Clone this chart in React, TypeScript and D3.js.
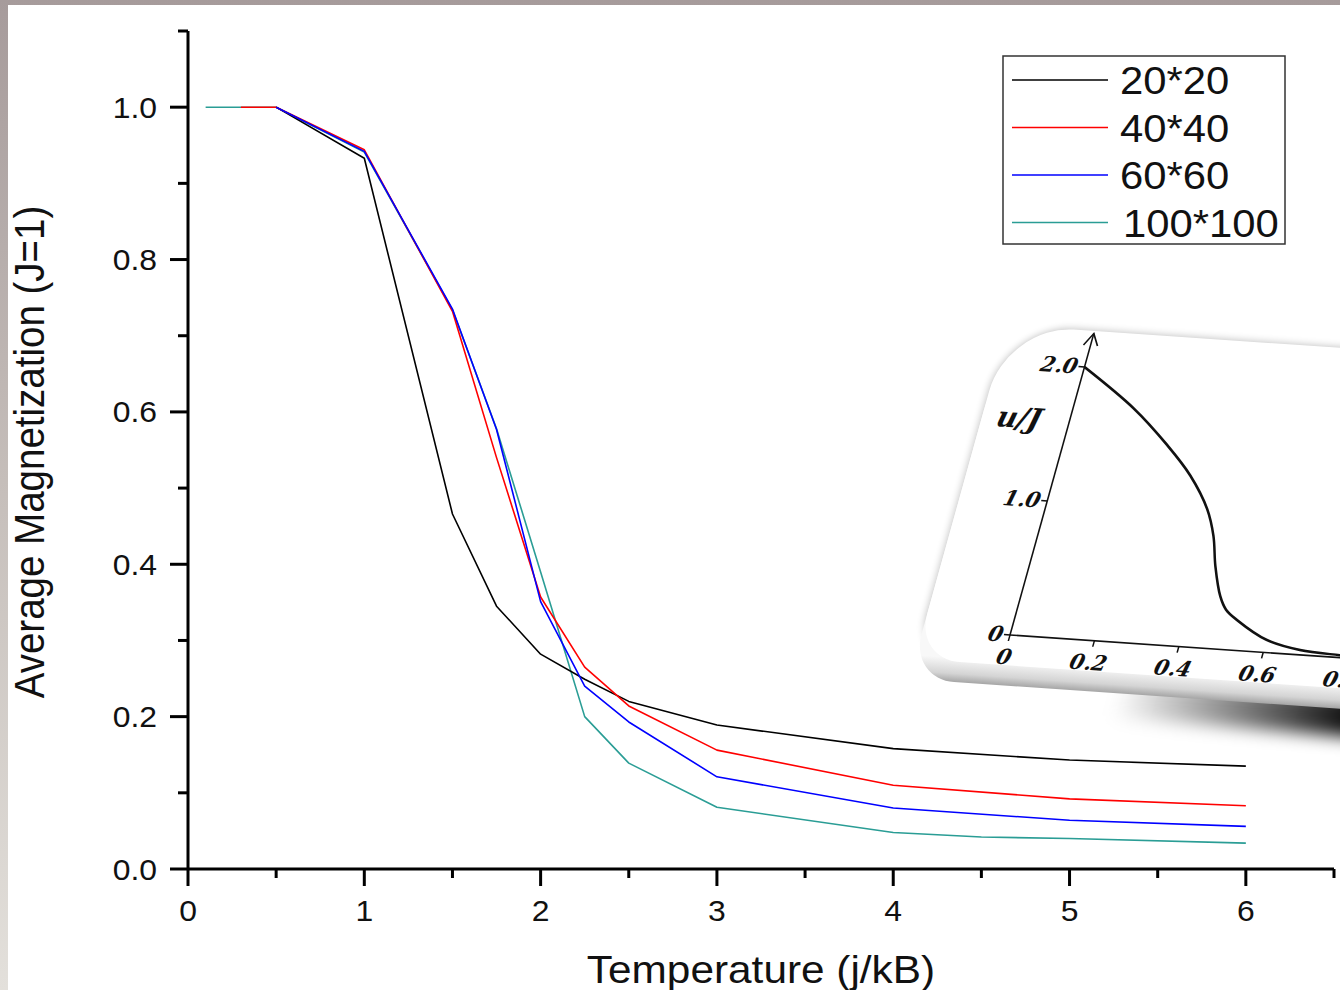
import React from 'react'
import * as d3 from 'd3'

// main chart data, temperature (j/kB) vs average magnetization
const t20 = [0.5, 1, 1.5, 1.75, 2, 2.25, 2.5, 3, 4, 5, 6]
const m20 = [1.0, 0.933, 0.466, 0.345, 0.282, 0.249, 0.22, 0.189, 0.158, 0.143, 0.135]
const t40 = [0.3, 0.5, 1, 1.5, 1.75, 2, 2.25, 2.5, 3, 4, 5, 6]
const m40 = [1.0, 1.0, 0.944, 0.732, 0.54, 0.357, 0.265, 0.214, 0.156, 0.11, 0.092, 0.083]
const t60 = [0.5, 1, 1.5, 1.75, 2, 2.25, 2.5, 3, 4, 5, 6]
const m60 = [1.0, 0.942, 0.735, 0.577, 0.351, 0.24, 0.193, 0.121, 0.08, 0.064, 0.056]
const t100 = [0.1, 0.3, 0.5, 1, 1.5, 1.75, 2, 2.25, 2.5, 3, 4, 4.5, 5, 6]
const m100 = [1.0, 1.0, 1.0, 0.941, 0.734, 0.578, 0.39, 0.2, 0.139, 0.081, 0.048, 0.042, 0.04, 0.034]

const seriesNames = ['20*20', '40*40', '60*60', '100*100']
const seriesColors = ['#000000', '#ff0000', '#0000ff', '#2a9d95']

const xTicks = [0, 1, 2, 3, 4, 5, 6]
const xMinor = [0.5, 1.5, 2.5, 3.5, 4.5, 5.5, 6.5]
const yTicks = [0, 0.2, 0.4, 0.6, 0.8, 1.0]
const yTickLabels = ['0.0', '0.2', '0.4', '0.6', '0.8', '1.0']
const yMinor = [0.1, 0.3, 0.5, 0.7, 0.9, 1.1]

// inset picture (u/J curve)
const insetX = [0, 0.141, 0.243, 0.316, 0.377, 0.409, 0.433, 0.464, 0.486, 0.517, 0.6, 0.684, 0.78, 0.9]
const insetY = [2.0, 1.722, 1.469, 1.259, 1.022, 0.828, 0.608, 0.389, 0.294, 0.226, 0.093, 0.036, 0.018, 0.008]
const insetXTicks = [0, 0.2, 0.4, 0.6, 0.8]
const insetXLabels = ['0', '0.2', '0.4', '0.6', '0.8']
const insetYTicks = [0, 1, 2]
const insetYLabels = ['0', '1.0', '2.0']

const FONT = 'Liberation Sans, Arial, sans-serif'
const SERIF = 'DejaVu Serif, serif'
const SX = 1.1 // the picture is a bit wider than tall

const Txt = ({x, y, size, anchor = 'start', children}) => (
  <text
    transform={`translate(${x},${y}) scale(${SX},1)`}
    fontSize={size}
    textAnchor={anchor}
    fontFamily={FONT}
    fill="#111">
    {children}
  </text>
)

export default function App() {
  const x = d3.scaleLinear().domain([0, 6.5]).range([188, 1334])
  const y = d3.scaleLinear().domain([0, 1.1]).range([869, 31])

  // drawing order: 100*100 under the others, 60*60 on top
  const series = [
    {t: t100, m: m100, i: 3},
    {t: t20, m: m20, i: 0},
    {t: t40, m: m40, i: 1},
    {t: t60, m: m60, i: 2}
  ]
  const line = d3
    .line<number>()
    .x(d => x(d[0]))
    .y(d => y(d[1]))

  // inset local frame (sheared to look like the tilted photo)
  const ix = d3.scaleLinear().domain([0, 1]).range([0, 422])
  const iy = d3.scaleLinear().domain([0, 1]).range([0, -134])
  const insetLine = d3
    .line<number>()
    .x(d => ix(d[0]))
    .y(d => iy(d[1]))
    .curve(d3.curveCatmullRom.alpha(0.5))
  const M = 'matrix(1,0.0687,-0.278,1,1010,635)'

  const u0 = -87, u1 = 800, v0 = -304, v1 = 30, rTL = 66, rBL = 45
  const card = (dv = 0) =>
    `M${u0 + rTL},${v0 + dv} L${u1},${v0 + dv} L${u1},${v1 + dv} L${u0 + rBL},${v1 + dv} ` +
    `A${rBL},${rBL} 0 0 1 ${u0},${v1 + dv - rBL} L${u0},${v0 + dv + rTL} ` +
    `A${rTL},${rTL} 0 0 1 ${u0 + rTL},${v0 + dv} Z`

  const arrowTop = iy(2.25)

  return (
    <svg width={1340} height={990} style={{position: 'absolute', left: 0, top: 0}}>
      <defs>
        <linearGradient id="frame" x1="0" y1="0" x2="0" y2="1">
          <stop offset="0" stopColor="#a69b9b" />
          <stop offset="0.5" stopColor="#c6bfbb" />
          <stop offset="1" stopColor="#e3e0db" />
        </linearGradient>
        <linearGradient id="edge" gradientUnits="userSpaceOnUse" x1="0" y1={v1 - 4} x2="0" y2={v1 + 22}>
          <stop offset="0" stopColor="#f8f8f8" />
          <stop offset="0.6" stopColor="#d4d4d4" />
          <stop offset="1" stopColor="#9a9a9a" />
        </linearGradient>
        <linearGradient id="shade" gradientUnits="userSpaceOnUse" x1="120" y1="0" x2="360" y2="0">
          <stop offset="0" stopColor="#000" stopOpacity="0" />
          <stop offset="1" stopColor="#000" stopOpacity="0.95" />
        </linearGradient>
        <filter id="blur8" x="-20%" y="-50%" width="140%" height="200%">
          <feGaussianBlur stdDeviation="8" />
        </filter>
        <filter id="blur4" x="-20%" y="-20%" width="140%" height="140%">
          <feGaussianBlur stdDeviation="4" />
        </filter>
      </defs>

      <rect x={0} y={0} width={1340} height={990} fill="url(#frame)" />
      <rect x={8} y={5} width={1332} height={985} fill="#fff" />

      {/* inset card */}
      <g transform={M}>
        <path d={`M${u0 + 60},${v1 + 5} L${u1},${v1 + 5} L${u1},${v1 + 55} L${u0 + 60},${v1 + 40} Z`} fill="url(#shade)" filter="url(#blur8)" />
        <path d={card(0)} fill="#000" opacity={0.28} filter="url(#blur4)" />
        <path d={card(20)} fill="url(#edge)" />
        <path d={card(0)} fill="#fff" />

        <line x1={0} y1={0} x2={ix(1)} y2={0} stroke="#111" strokeWidth={1.6} />
        <line x1={0} y1={0} x2={0} y2={arrowTop} stroke="#111" strokeWidth={1.6} />
        <path d={`M-7,${arrowTop + 12} L0,${arrowTop} L7,${arrowTop + 12}`} fill="none" stroke="#111" strokeWidth={1.6} />
        {insetYTicks.map((v, i) => (
          <g key={'iy' + i}>
            <line x1={-6} x2={0} y1={iy(v)} y2={iy(v)} stroke="#111" strokeWidth={1.5} />
            <text x={-7} y={iy(v) + 7} fontSize={21} textAnchor="end" fontStyle="italic" fontWeight="bold" fontFamily={SERIF} fill="#111">
              {insetYLabels[i]}
            </text>
          </g>
        ))}
        {insetXTicks.map((v, i) => (
          <g key={'ix' + i}>
            <line x1={ix(v)} x2={ix(v)} y1={0} y2={6} stroke="#111" strokeWidth={1.5} />
            <text x={ix(v)} y={29} fontSize={21} textAnchor="middle" fontStyle="italic" fontWeight="bold" fontFamily={SERIF} fill="#111">
              {insetXLabels[i]}
            </text>
          </g>
        ))}
        <text x={-50} y={-204} fontSize={28} textAnchor="middle" fontStyle="italic" fontWeight="bold" fontFamily={SERIF} fill="#111">
          u/J
        </text>
        <path d={insetLine(d3.zip(insetX, insetY))} fill="none" stroke="#111" strokeWidth={2.4} />
      </g>

      {/* axes */}
      <line x1={x(0)} x2={x(6.5)} y1={y(0)} y2={y(0)} stroke="#000" strokeWidth={3} />
      <line x1={x(0)} x2={x(0)} y1={y(0)} y2={y(1.1)} stroke="#000" strokeWidth={3} />
      {xTicks.map(v => (
        <line key={'xt' + v} x1={x(v)} x2={x(v)} y1={y(0)} y2={y(0) + 17} stroke="#000" strokeWidth={3} />
      ))}
      {xMinor.map(v => (
        <line key={'xm' + v} x1={x(v)} x2={x(v)} y1={y(0)} y2={y(0) + 9} stroke="#000" strokeWidth={3} />
      ))}
      {yTicks.map(v => (
        <line key={'yt' + v} x1={x(0) - 18} x2={x(0)} y1={y(v)} y2={y(v)} stroke="#000" strokeWidth={3} />
      ))}
      {yMinor.map(v => (
        <line key={'ym' + v} x1={x(0) - 10} x2={x(0)} y1={y(v)} y2={y(v)} stroke="#000" strokeWidth={3} />
      ))}
      {xTicks.map(v => (
        <Txt key={'xl' + v} x={x(v)} y={921} size={29} anchor="middle">
          {v}
        </Txt>
      ))}
      {yTicks.map((v, i) => (
        <Txt key={'yl' + v} x={157} y={y(v) + 10.5} size={29} anchor="end">
          {yTickLabels[i]}
        </Txt>
      ))}

      <text
        transform="translate(44,452) rotate(-90) scale(1,1.1)"
        fontSize={38.5}
        textAnchor="middle"
        fontFamily={FONT}
        fill="#111">
        Average Magnetization (J=1)
      </text>
      <Txt x={761} y={983} size={38.5} anchor="middle">
        Temperature (j/kB)
      </Txt>

      {/* data */}
      {series.map(s => (
        <path
          key={'s' + s.i}
          d={line(d3.zip(s.t, s.m))}
          fill="none"
          stroke={seriesColors[s.i]}
          strokeWidth={1.6}
          strokeLinejoin="round"
        />
      ))}

      {/* legend */}
      <rect x={1003} y={56} width={282} height={188} fill="#fff" stroke="#333" strokeWidth={1.5} />
      {seriesNames.map((n, i) => (
        <g key={'lg' + i}>
          <line x1={1012} x2={1108} y1={80 + i * 47.5} y2={80 + i * 47.5} stroke={seriesColors[i]} strokeWidth={1.4} />
          <Txt x={i === 3 ? 1123 : 1120} y={94 + i * 47.6} size={38}>
            {n}
          </Txt>
        </g>
      ))}
    </svg>
  )
}
